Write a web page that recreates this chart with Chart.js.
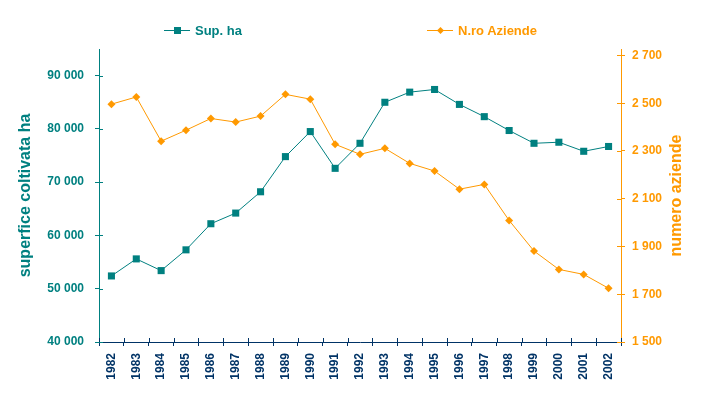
<!DOCTYPE html>
<html lang="it">
<head>
  <meta charset="UTF-8">
  <title>Superficie coltivata e numero aziende</title>
  <script src="https://cdn.jsdelivr.net/npm/chart.js"></script>
  <style>
    body {
      margin: 0;
      background: #ffffff;
      font-family: Arial, "Liberation Sans", sans-serif;
    }
    .wrap {
      position: relative;
      width: 714px;
      height: 397px;
    }
    .leg {
      position: absolute;
      top: 23px;
      height: 15px;
      line-height: 15px;
      font-size: 13px;
      font-weight: bold;
      white-space: nowrap;
    }
    .sw {
      position: relative;
      display: inline-block;
      width: 26px;
      height: 15px;
      vertical-align: top;
      margin-right: 5px;
    }
    .sw::before {
      content: '';
      position: absolute;
      left: 0;
      right: 0;
      top: 7px;
      border-top: 1px solid currentColor;
    }
    .sw i {
      position: absolute;
      background: currentColor;
    }
    .sq i { left: 10px; top: 4px; width: 7px; height: 7px; }
    .dm i { left: 11px; top: 5px; width: 5px; height: 5px; transform: rotate(45deg); }
  </style>
</head>
<body>
  <div class="wrap">
    <canvas id="chart" width="714" height="397"></canvas>
    <div class="leg" style="left:164px;color:#008080"><span class="sw sq"><i></i></span>Sup. ha</div>
    <div class="leg" style="left:427px;color:#FF9900"><span class="sw dm"><i></i></span>N.ro Aziende</div>
  </div>

  <script>
    // data
    const years = ['1982', '1983', '1984', '1985', '1986', '1987', '1988', '1989', '1990', '1991', '1992',
                   '1993', '1994', '1995', '1996', '1997', '1998', '1999', '2000', '2001', '2002'];
    const supHa = [52400, 55600, 53400, 57300, 62200, 64200, 68200, 74800, 79500, 72600, 77300,
                   85000, 86900, 87400, 84600, 82300, 79700, 77300, 77500, 75800, 76700];
    const nAziende = [2496, 2526, 2341, 2387, 2436, 2421, 2446, 2537, 2517, 2328, 2286,
                      2311, 2248, 2216, 2140, 2160, 2009, 1881, 1804, 1783, 1725];
    const leftTicks = [40000, 50000, 60000, 70000, 80000, 90000];
    const rightTicks = [1500, 1700, 1900, 2100, 2300, 2500, 2700];

    const TEAL = '#008080';
    const ORANGE = '#FF9900';
    const NAVY = '#003366';
    const FONT = 'Arial, "Liberation Sans", sans-serif';

    const fmt = v => String(v).replace(/\B(?=(\d{3})+(?!\d))/g, ' ');

    // inner half of the crossing tick marks + right axis title (reads bottom to top)
    const extras = {
      id: 'extras',
      afterDraw(chart) {
        const ctx = chart.ctx;
        const x = chart.scales.x, yL = chart.scales.y, yR = chart.scales.y1;
        ctx.save();
        ctx.lineWidth = 1;

        ctx.strokeStyle = NAVY;
        const step = (x.right - x.left) / years.length;
        ctx.beginPath();
        for (let i = 0; i <= years.length; i++) {
          const px = Math.round(x.left + i * step) + 0.5;
          ctx.moveTo(px, x.top);
          ctx.lineTo(px, x.top - 4);
        }
        ctx.stroke();

        ctx.strokeStyle = TEAL;
        ctx.beginPath();
        yL.ticks.forEach(t => {
          const py = Math.round(yL.getPixelForValue(t.value)) + 0.5;
          ctx.moveTo(yL.right, py);
          ctx.lineTo(yL.right + 4, py);
        });
        ctx.stroke();

        ctx.strokeStyle = ORANGE;
        ctx.beginPath();
        yR.ticks.forEach(t => {
          const py = Math.round(yR.getPixelForValue(t.value)) + 0.5;
          ctx.moveTo(yR.left, py);
          ctx.lineTo(yR.left - 4, py);
        });
        ctx.stroke();

        ctx.translate(677, (chart.chartArea.top + chart.chartArea.bottom) / 2);
        ctx.rotate(-Math.PI / 2);
        ctx.fillStyle = ORANGE;
        ctx.font = 'bold 16px ' + FONT;
        ctx.textAlign = 'center';
        ctx.textBaseline = 'middle';
        ctx.fillText('numero aziende', 0, 0);
        ctx.restore();
      }
    };

    new Chart(document.getElementById('chart'), {
      type: 'line',
      data: {
        labels: years,
        datasets: [
          {
            label: 'Sup. ha',
            data: supHa,
            yAxisID: 'y',
            borderColor: TEAL,
            backgroundColor: TEAL,
            borderWidth: 1,
            pointStyle: 'rect',
            pointRadius: 5,
            pointBorderWidth: 0,
            tension: 0
          },
          {
            label: 'N.ro Aziende',
            data: nAziende,
            yAxisID: 'y1',
            borderColor: ORANGE,
            backgroundColor: ORANGE,
            borderWidth: 1,
            pointStyle: 'rectRot',
            pointRadius: 4,
            pointBorderWidth: 0,
            tension: 0
          }
        ]
      },
      options: {
        responsive: false,
        animation: false,
        layout: { padding: { top: 49, left: 0, right: 0, bottom: 0 } },
        plugins: {
          legend: { display: false },
          tooltip: { enabled: false }
        },
        scales: {
          x: {
            offset: true,
            grid: { display: true, offset: true, drawOnChartArea: false, tickLength: 4, tickColor: NAVY },
            border: { color: NAVY },
            ticks: {
              autoSkip: false,
              maxRotation: 90,
              minRotation: 90,
              padding: 7,
              color: NAVY,
              font: { family: FONT, size: 12, weight: 'bold' }
            },
            afterFit(s) { s.height = 55; }
          },
          y: {
            position: 'left',
            min: 40000,
            max: 95000,
            afterBuildTicks(s) { s.ticks = leftTicks.map(v => ({ value: v })); },
            grid: { display: true, drawOnChartArea: false, tickLength: 4, tickColor: TEAL },
            border: { color: TEAL },
            ticks: {
              padding: 11,
              color: TEAL,
              font: { family: FONT, size: 12, weight: 'bold' },
              callback: v => fmt(v)
            },
            title: {
              display: true,
              text: 'superfice coltivata ha',
              color: TEAL,
              font: { family: FONT, size: 16, weight: 'bold' },
              padding: { top: 16, bottom: 0 }
            },
            afterFit(s) { s.width = 99; }
          },
          y1: {
            position: 'right',
            min: 1500,
            max: 2727,
            afterBuildTicks(s) { s.ticks = rightTicks.map(v => ({ value: v })); },
            grid: { display: true, drawOnChartArea: false, tickLength: 4, tickColor: ORANGE },
            border: { color: ORANGE },
            ticks: {
              padding: 7,
              color: ORANGE,
              font: { family: FONT, size: 12, weight: 'bold' },
              callback: v => fmt(v)
            },
            afterFit(s) { s.width = 93; }
          }
        }
      },
      plugins: [extras]
    });
  </script>
</body>
</html>
